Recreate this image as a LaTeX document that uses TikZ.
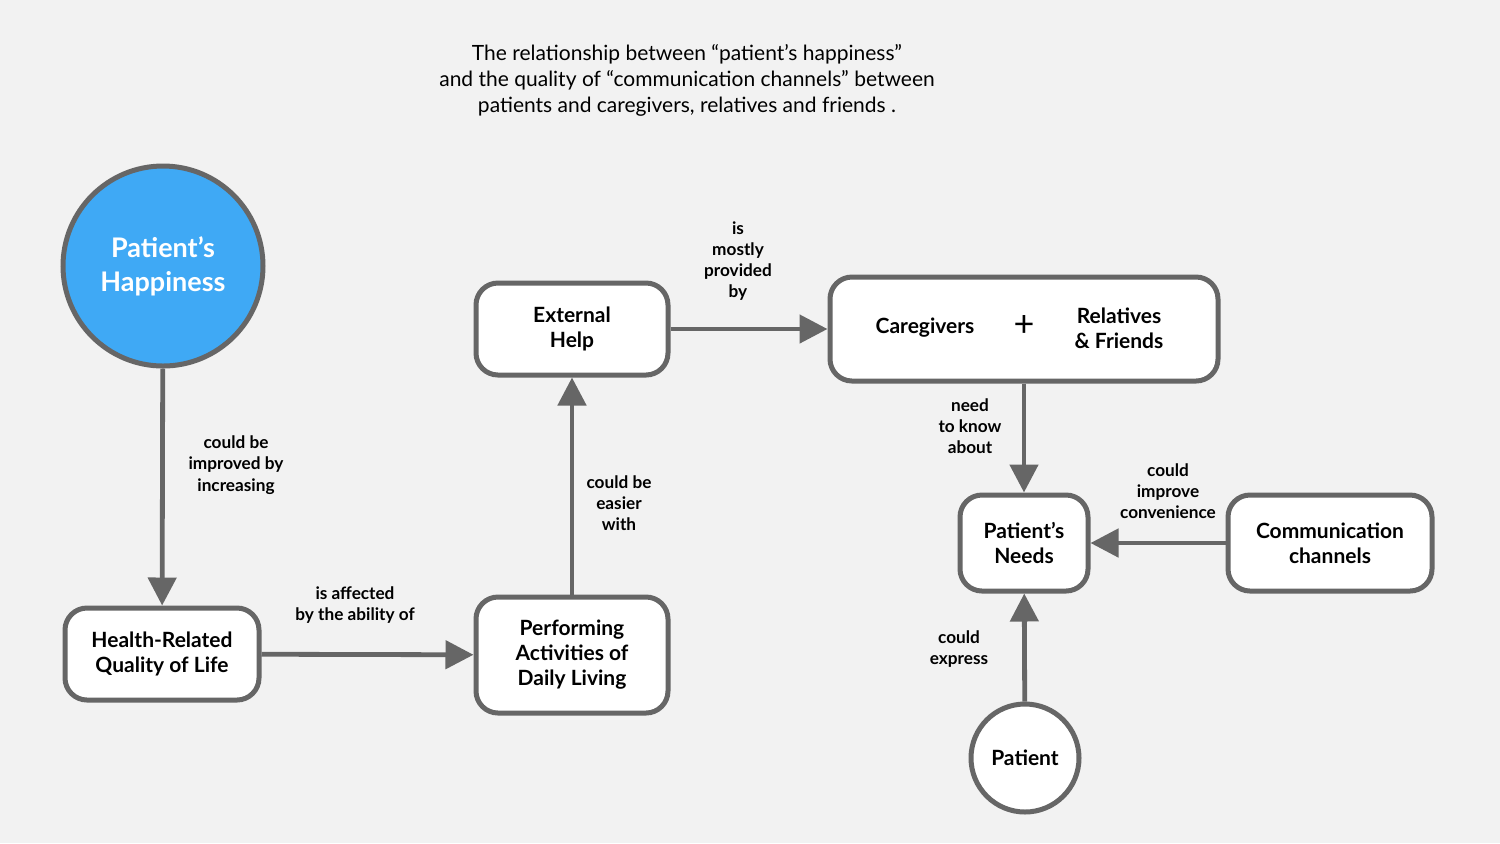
\documentclass[tikz,border=0pt]{standalone}
\usepackage{fontspec}
\setmainfont{Lato}
\usetikzlibrary{arrows.meta}
\definecolor{bg}{HTML}{F2F2F2}
\definecolor{ln}{HTML}{666666}
\definecolor{blu}{HTML}{3FA9F5}
\begin{document}
\begin{tikzpicture}[x=0.5pt,y=-0.5pt,
 box/.style={draw=ln,line width=2.5pt,fill=white,rounded corners=11pt,align=center,font=\fontsize{10.5}{12.5}\selectfont\bfseries},
 arr/.style={draw=ln,line width=2.4pt,-{Triangle[length=14pt,width=14pt]}},
 lab/.style={align=center,font=\fontsize{8.6}{10.6}\selectfont\bfseries,text=black}]
\fill[bg] (0,0) rectangle (1500,843);
\useasboundingbox (0,0) rectangle (1500,843);
\node[lab,font=\fontsize{10.5}{13}\selectfont] (title) at (687,80) {The relationship between “patient’s happiness”\\and the quality of “communication channels” between\\patients and caregivers, relatives and friends .};
\node[circle,draw=ln,line width=2.5pt,fill=blu,minimum size=100pt,inner sep=0pt,align=center,text=white,font=\fontsize{13.5}{17}\selectfont\bfseries] (hap) at (163,266) {Patient’s\\Happiness};
\node[box,minimum width=97pt,minimum height=46pt] (hr) at (162,654) {Health-Related\\Quality of Life};
\node[box,minimum width=96pt,minimum height=58pt] (pa) at (572,655) {Performing\\Activities of\\Daily Living};
\node[box,minimum width=96pt,minimum height=46pt] (ex) at (572,329) {External\\Help};
\node[box,minimum width=194pt,minimum height=52pt] (cg) at (1024,329) {};
\node[lab,font=\fontsize{10.5}{12.5}\selectfont\bfseries] (cgt) at (925,328) {Caregivers};
\node[lab,font=\fontsize{18}{18}\selectfont] (plus) at (1024,326) {+};
\node[lab,font=\fontsize{10.5}{12.5}\selectfont\bfseries] (rf) at (1119,328) {Relatives\\\& Friends};
\node[box,minimum width=64pt,minimum height=48pt] (pn) at (1024,543) {Patient’s\\Needs};
\node[box,minimum width=102pt,minimum height=48pt] (cc) at (1330,543) {Communication\\channels};
\node[circle,draw=ln,line width=2.5pt,fill=white,minimum size=54pt,inner sep=0pt,font=\fontsize{10.5}{12.5}\selectfont\bfseries] (pt) at (1025,758) {Patient};
\draw[arr] (hap) -- (hr);
\draw[arr] (hr) -- (pa);
\draw[arr] (pa) -- (ex);
\draw[arr] (ex) -- (cg);
\draw[arr] (cg) -- (pn);
\draw[arr] (cc) -- (pn);
\draw[arr] (pt) -- (pn);
\node[lab] (l1) at (236,465) {could be\\improved by\\increasing};
\node[lab] (l2) at (355,605) {is affected\\by the ability of};
\node[lab] (l3) at (619,503) {could be\\easier\\with};
\node[lab] (l4) at (738,261) {is\\mostly\\provided\\by};
\node[lab] (l5) at (970,426) {need\\to know\\about};
\node[lab] (l6) at (1168,491) {could\\improve\\convenience};
\node[lab] (l7) at (959,649) {could\\express};
\end{tikzpicture}
\end{document}
